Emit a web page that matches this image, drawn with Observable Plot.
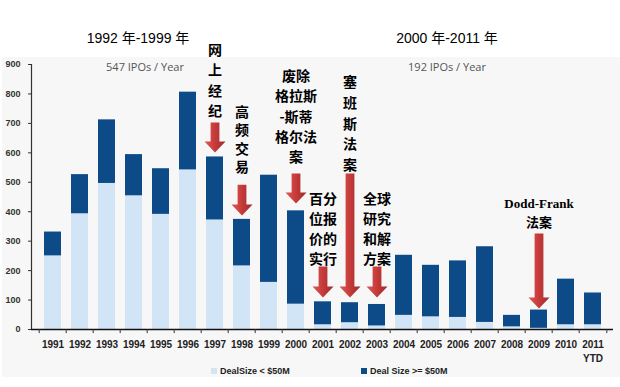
<!DOCTYPE html>
<html><head><meta charset="utf-8">
<script src="https://cdn.jsdelivr.net/npm/d3@7"></script>
<script src="https://cdn.jsdelivr.net/npm/@observablehq/plot@0.6"></script>
<style>
body{margin:0;background:#fff;}
#wrap{position:relative;width:620px;height:387px;overflow:hidden;font-family:"Liberation Sans","Noto Sans CJK SC",sans-serif;}
#bg{position:absolute;left:2px;top:57px;width:618px;height:320px;background:#f7f7f7;}
#chart{position:absolute;left:0;top:0;}
.title{position:absolute;top:30px;font-size:14px;color:#000;transform:translateX(-50%);white-space:nowrap;line-height:16px;}
.sub{position:absolute;top:60px;font-size:11px;color:#555;transform:translateX(-50%);white-space:nowrap;font-family:"Open Sans","Liberation Sans",sans-serif;line-height:14px;}
.leg{position:absolute;top:365px;font-size:9px;color:#222;white-space:nowrap;line-height:12px;font-weight:bold;}
.leg i{display:inline-block;width:6px;height:6px;margin-right:3px;vertical-align:0px;}
</style></head>
<body>
<div id="wrap">
  <div id="bg"></div>
  <div id="chart"></div>
  <div class="title" style="left:138px">1992 年-1999 年</div>
  <div class="title" style="left:447px">2000 年-2011 年</div>
  <div class="sub" style="left:145px">547 IPOs / Year</div>
  <div class="sub" style="left:447px">192 IPOs / Year</div>
  <div id="legend"></div>
</div>
<script>
const years = ["1991","1992","1993","1994","1995","1996","1997","1998","1999","2000","2001","2002","2003","2004","2005","2006","2007","2008","2009","2010","2011"];
const small = [250, 393, 496, 454, 391, 542, 372, 216, 160, 86, 16, 23, 12, 48, 43, 41, 24, 9, 4, 16, 16];
const large = [81, 133, 216, 140, 155, 264, 214, 158, 364, 317, 78, 68, 73, 204, 175, 192, 257, 39, 62, 155, 108];
const seriesNames = ["DealSize < $50M", "Deal Size >= $50M"];
const seriesColors = ["#d2e5f6", "#0c4a88"];
const yTicks = [0, 100, 200, 300, 400, 500, 600, 700, 800, 900];

// annotations (values in chart units)
const annYears  = ["1997", "1998", "2000", "2001", "2002", "2003"];
const annLabels = ["网\n上\n经\n纪", "高\n频\n交\n易", "废除\n格拉斯\n-斯蒂\n格尔法\n案", "百分\n位报\n价的\n实行", "塞\n班\n斯\n法\n案", "全球\n研究\n和解\n方案"];
const annTextTop = [980, 767, 893, 474, 872, 474];
const annLineH  = [1.44, 1.32, 1.45, 1.43, 1.47, 1.43];
const doddYear = "2009";
const doddLabel = "Dodd-Frank\n法案";
const doddTextTop = 457;
const arrowYears = ["1997", "1998", "2000", "2001", "2002", "2003", "2009"];
const arrowTop = [703, 492, 530, 214, 530, 214, 326];
const arrowTip = [601, 387, 428, 109, 109, 109, 71];

const rows = years.flatMap((y, i) => [
  {year: y, series: seriesNames[0], value: small[i]},
  {year: y, series: seriesNames[1], value: large[i]}
]);
const anns = annYears.map((y, i) => ({year: y, label: annLabels[i], top: annTextTop[i], lh: annLineH[i]}));
const arrows = arrowYears.map((y, i) => ({year: y, top: arrowTop[i], len: arrowTop[i] - arrowTip[i]}));

const W = 620, H = 387, mL = 31, mR = 7, mT = 64, mB = 58;
const step = (W - mL - mR - 2) / years.length;

const arrowShape = {
  draw(context, l) {
    const hw = 10.5, sw = 4.4, hh = 11;
    context.moveTo(-sw, 0);
    context.lineTo(-sw, -(l - hh));
    context.lineTo(-hw, -(l - hh));
    context.lineTo(0, -l);
    context.lineTo(hw, -(l - hh));
    context.lineTo(sw, -(l - hh));
    context.lineTo(sw, 0);
    context.closePath();
  }
};

const textMarks = anns.map(a => Plot.text([a], {
  x: "year", y: "top", text: "label", lineAnchor: "top", lineHeight: a.lh,
  fontSize: 14, fontWeight: "bold", fill: "#000",
  fontFamily: "'Noto Sans CJK SC', sans-serif"
}));

const chart = Plot.plot({
  width: W, height: H,
  marginLeft: mL, marginRight: mR, marginTop: mT, marginBottom: mB,
  style: {background: "transparent", overflow: "visible"},
  x: {domain: years, paddingInner: 0.36, paddingOuter: 0.18, insetLeft: 2, axis: null},
  y: {domain: [0, 900], axis: null},
  color: {domain: seriesNames, range: seriesColors},
  length: {type: "linear", domain: [0, 900], range: [0, H - mT - mB]},
  marks: [
    Plot.barY(rows, {x: "year", y: "value", fill: "series"}),
    Plot.frame({anchor: "left", stroke: "#333", strokeWidth: 1.2}),
    Plot.ruleY([0], {stroke: "#111", strokeWidth: 1.6}),
    Plot.ruleX(years, {x: d => d, y1: 0, y2: -14, dx: -step / 2, stroke: "#333"}),
    Plot.ruleX([years[years.length - 1]], {x: d => d, y1: 0, y2: -14, dx: step / 2, stroke: "#333"}),
    Plot.axisY({ticks: yTicks, tickSize: 3, tickPadding: 8, fontSize: 9, fontWeight: "bold", color: "#333",
      fontFamily: "'Liberation Sans', sans-serif"}),
    Plot.axisX({tickSize: 0, tickPadding: 9, fontSize: 10, fontWeight: "bold", color: "#222", label: null,
      lineHeight: 1.35, fontFamily: "'Liberation Sans', sans-serif",
      tickFormat: d => d === "2011" ? "2011\nYTD" : d}),
    Plot.vector(arrows, {x: "year", y: "top", length: "len", rotate: 180, anchor: "start",
      shape: arrowShape, fill: "url(#arrowGrad)", stroke: "none"}),
    ...textMarks,
    Plot.text([{year: doddYear, label: doddLabel, top: doddTextTop}], {
      x: "year", y: "top", text: "label", lineAnchor: "top", lineHeight: 1.45,
      fontSize: 13, fontWeight: "bold", fill: "#000",
      fontFamily: "'Liberation Serif', 'Noto Sans CJK SC', serif"
    })
  ]
});

// gradient for the block arrows
const ns = "http://www.w3.org/2000/svg";
const defs = document.createElementNS(ns, "defs");
defs.innerHTML = '<linearGradient id="arrowGrad" x1="0" y1="0" x2="1" y2="0">' +
  '<stop offset="0" stop-color="#9e2a2a"/><stop offset="0.55" stop-color="#c93c3c"/><stop offset="1" stop-color="#dc5a56"/></linearGradient>';
chart.prepend(defs);
document.getElementById("chart").appendChild(chart);

// legend
const legend = document.getElementById("legend");
const legX = [211, 361];
seriesNames.forEach((name, i) => {
  const d = document.createElement("div");
  d.className = "leg";
  d.style.left = legX[i] + "px";
  d.innerHTML = `<i style="background:${seriesColors[i]}"></i>${name}`;
  legend.appendChild(d);
});
</script>
</body></html>
